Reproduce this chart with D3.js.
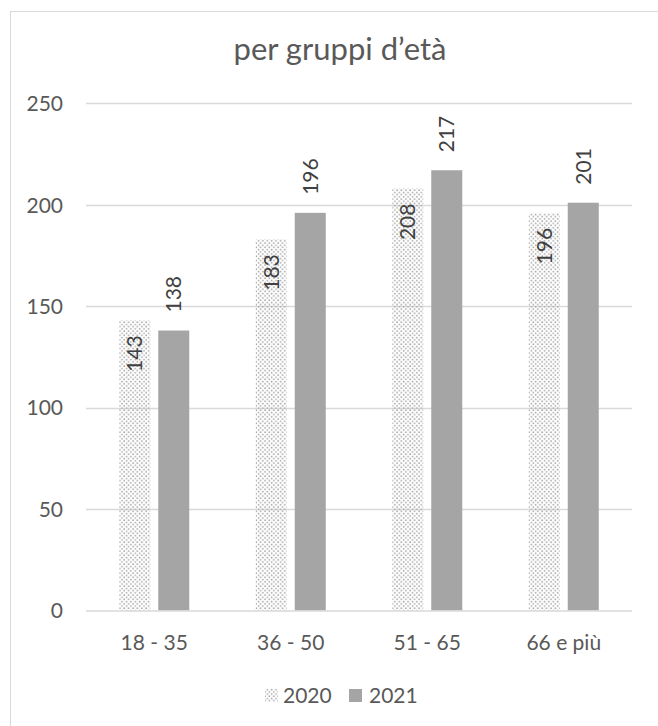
<!DOCTYPE html>
<html>
<head>
<meta charset="utf-8">
<script src="https://cdn.jsdelivr.net/npm/d3@7"></script>
<style>
  body { margin: 0; background: #fff; }
  text { font-family: Lato, "Open Sans", sans-serif; fill: #595959; }
</style>
</head>
<body>
<svg id="chart" width="658" height="726"></svg>
<script>
const categories = ["18 - 35", "36 - 50", "51 - 65", "66 e più"];
const seriesNames = ["2020", "2021"];
const values2020 = [143, 183, 208, 196];
const values2021 = [138, 196, 217, 201];
const yTicks = [0, 50, 100, 150, 200, 250];
const title = "per gruppi d\u2019età";

const svg = d3.select("#chart");
const plot = { left: 86, right: 632, top: 103.3, bottom: 610.5 };

// pattern for 2020
const defs = svg.append("defs");
const pat = defs.append("pattern").attr("id", "dots").attr("patternUnits", "userSpaceOnUse")
  .attr("width", 4.4).attr("height", 4.4);
pat.append("rect").attr("x", 0.3).attr("y", 0.3).attr("width", 1.5).attr("height", 1.5).attr("fill", "#a3a3a3");
pat.append("rect").attr("x", 2.5).attr("y", 2.5).attr("width", 1.5).attr("height", 1.5).attr("fill", "#a3a3a3");

// chart border
svg.append("rect").attr("x", 10.5).attr("y", 11.5).attr("width", 700).attr("height", 800)
  .attr("fill", "none").attr("stroke", "#d9d9d9");

const x = d3.scaleBand().domain(categories).range([plot.left, plot.right]).padding(0);
const groupW = x.bandwidth() * 0.513;
const xs = d3.scaleBand().domain(seriesNames).range([-groupW / 2, groupW / 2]).paddingInner(0.205).paddingOuter(0);
const y = d3.scaleLinear().domain([0, 250]).range([plot.bottom, plot.top]);

// gridlines
svg.append("g").selectAll("line").data(yTicks.filter(d => d > 0)).join("line")
  .attr("x1", plot.left).attr("x2", plot.right)
  .attr("y1", d => Math.round(y(d)) + 0.5).attr("y2", d => Math.round(y(d)) + 0.5)
  .attr("stroke", "#d9d9d9").attr("stroke-width", 1.3);

// y axis labels
const yAxis = d3.axisLeft(y).tickValues(yTicks).tickSize(0).tickPadding(0);
const gy = svg.append("g").attr("transform", "translate(63,0)").call(yAxis);
gy.select(".domain").remove();
gy.selectAll("text").attr("font-size", 21).attr("fill", "#595959").attr("dy", "0.35em")
  .style("font-family", "Lato, 'Open Sans', sans-serif");

const series = [
  { name: "2020", values: values2020, fill: "url(#dots)" },
  { name: "2021", values: values2021, fill: "#a5a5a5" }
];

series.forEach(s => {
  const g = svg.append("g");
  g.selectAll("rect").data(s.values).join("rect")
    .attr("x", (d, i) => x(categories[i]) + x.bandwidth() / 2 + xs(s.name))
    .attr("y", d => y(d))
    .attr("width", xs.bandwidth())
    .attr("height", d => y(0) - y(d))
    .attr("fill", s.fill);
});

// x axis line
svg.append("line").attr("x1", plot.left).attr("x2", plot.right)
  .attr("y1", plot.bottom + 0.5).attr("y2", plot.bottom + 0.5)
  .attr("stroke", "#d9d9d9").attr("stroke-width", 1.5);

// x labels
const xAxis = d3.axisBottom(x).tickSize(0).tickPadding(0);
const gx = svg.append("g").attr("transform", `translate(0,${plot.bottom})`).call(xAxis);
gx.select(".domain").remove();
gx.selectAll("text").attr("font-size", 21).attr("fill", "#595959").attr("y", 39).attr("dy", 0)
  .style("font-family", "Lato, 'Open Sans', sans-serif");

// data labels
values2020.forEach((v, i) => {
  const cx = x(categories[i]) + x.bandwidth() / 2 + xs("2020") + xs.bandwidth() / 2;
  const ty = y(v) + 15;
  svg.append("text").attr("transform", `translate(${cx},${ty}) rotate(-90)`)
    .attr("text-anchor", "end").attr("dy", "0.36em").attr("font-size", 21)
    .style("fill", "#404040").text(v);
});
values2021.forEach((v, i) => {
  const cx = x(categories[i]) + x.bandwidth() / 2 + xs("2021") + xs.bandwidth() / 2;
  const ty = y(v) - 18;
  svg.append("text").attr("transform", `translate(${cx},${ty}) rotate(-90)`)
    .attr("text-anchor", "start").attr("dy", "0.36em").attr("font-size", 21)
    .style("fill", "#404040").text(v);
});

// title
svg.append("text").attr("x", 340).attr("y", 60).attr("text-anchor", "middle")
  .attr("font-size", 31).text(title);

// legend
const legendItems = [
  { name: "2020", fill: "url(#dots)", sx: 265, tx: 283 },
  { name: "2021", fill: "#a5a5a5", sx: 349, tx: 369 }
];
const lg = svg.append("g");
legendItems.forEach(it => {
  lg.append("rect").attr("x", it.sx).attr("y", 689).attr("width", 13).attr("height", 13).attr("fill", it.fill);
  lg.append("text").attr("x", it.tx).attr("y", 703).attr("font-size", 21).text(it.name);
});
</script>
</body>
</html>
